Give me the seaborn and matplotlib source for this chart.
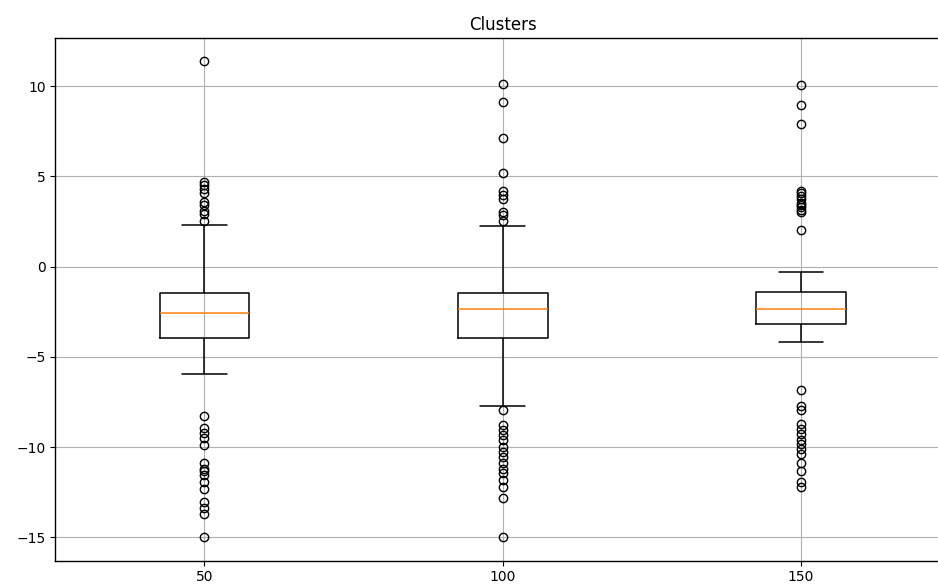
import numpy as np
import pandas as pd
import matplotlib
matplotlib.use("Agg")
import matplotlib.pyplot as plt
import seaborn as sns

# ---- values ----
clusters = [50, 100, 150]
q1_vals = [-3.98, -3.97, -3.19]
median_vals = [-2.55, -2.35, -2.33]
q3_vals = [-1.47, -1.48, -1.41]
whisker_low = [-5.95, -7.70, -4.18]
whisker_high = [2.28, 2.25, -0.32]

fliers_high_50 = [11.4, 4.7, 4.5, 4.3, 4.1, 3.6, 3.4, 3.1, 2.9, 2.5]
fliers_low_50 = [-8.3, -8.95, -9.25, -9.5, -9.9, -10.9, -11.2, -11.35, -11.55,
                 -11.95, -12.3, -13.05, -13.4, -13.7, -15.0]
fliers_high_100 = [10.1, 9.1, 7.1, 5.2, 4.2, 3.95, 3.75, 3.05, 2.85, 2.5]
fliers_low_100 = [-7.95, -8.8, -9.05, -9.35, -9.6, -10.0, -10.25, -10.55, -10.9,
                  -11.2, -11.45, -11.85, -12.2, -12.85, -15.0]
fliers_high_150 = [10.05, 8.95, 7.9, 4.2, 4.05, 3.9, 3.75, 3.55, 3.4, 3.3, 3.15, 3.0, 2.0]
fliers_low_150 = [-6.85, -7.7, -7.95, -8.7, -9.0, -9.3, -9.6, -9.85, -10.1, -10.4,
                  -10.9, -11.35, -11.95, -12.2]

fliers_high = [fliers_high_50, fliers_high_100, fliers_high_150]
fliers_low = [fliers_low_50, fliers_low_100, fliers_low_150]

# Build per-cluster samples that reproduce the read box statistics
block = 120
rows = []
for c, q1, md, q3, wl, wh, fh, fl in zip(clusters, q1_vals, median_vals, q3_vals,
                                         whisker_low, whisker_high, fliers_high, fliers_low):
    vals = list(fl) + [wl] + [q1] * block + [md] * block + [q3] * block + [wh] + list(fh)
    rows.append(pd.DataFrame({"cluster": c, "value": vals}))
df = pd.concat(rows, ignore_index=True)

# ---- style ----
sns.set_style("ticks", {
    "axes.edgecolor": "black",
    "axes.grid": True,
    "grid.color": "#b0b0b0",
    "grid.linestyle": "-",
    "xtick.color": "black",
    "ytick.color": "black",
    "text.color": "black",
    "axes.labelcolor": "black",
    "xtick.direction": "out",
    "ytick.direction": "out",
})
plt.rcParams.update({
    "font.family": ["DejaVu Sans"],
    "font.size": 10,
    "xtick.labelsize": 10,
    "ytick.labelsize": 10,
    "axes.titlesize": 12,
    "xtick.major.size": 3.5,
    "ytick.major.size": 3.5,
    "xtick.major.width": 0.8,
    "ytick.major.width": 0.8,
    "axes.linewidth": 1.0,
    "grid.linewidth": 0.8,
})

fig = plt.figure(figsize=(9.38, 5.84), dpi=100)
ax = fig.add_axes([0.059, 0.0399, 0.954, 0.8945])

sns.boxplot(
    data=df, x="cluster", y="value", native_scale=True, width=0.3,
    fill=False, color="black", linewidth=1.1, whis=1.5,
    medianprops=dict(color="#ff7f0e", linewidth=1.1),
    flierprops=dict(marker="o", markerfacecolor="none", markeredgecolor="black",
                    markersize=6, markeredgewidth=1.0),
    ax=ax,
)

ax.grid(True, color="#b0b0b0", linewidth=0.8)
ax.set_axisbelow(True)
ax.set_xticks(clusters)
ax.set_xticklabels([str(c) for c in clusters])
ax.set_yticks([-15, -10, -5, 0, 5, 10])
ax.set_xlim(25, 175)
ax.set_ylim(-16.3, 12.65)
ax.set_xlabel("")
ax.set_ylabel("")
ax.set_title("Clusters")
for s in ax.spines.values():
    s.set_visible(True)
    s.set_color("black")

fig.savefig("out.png", dpi=100)
